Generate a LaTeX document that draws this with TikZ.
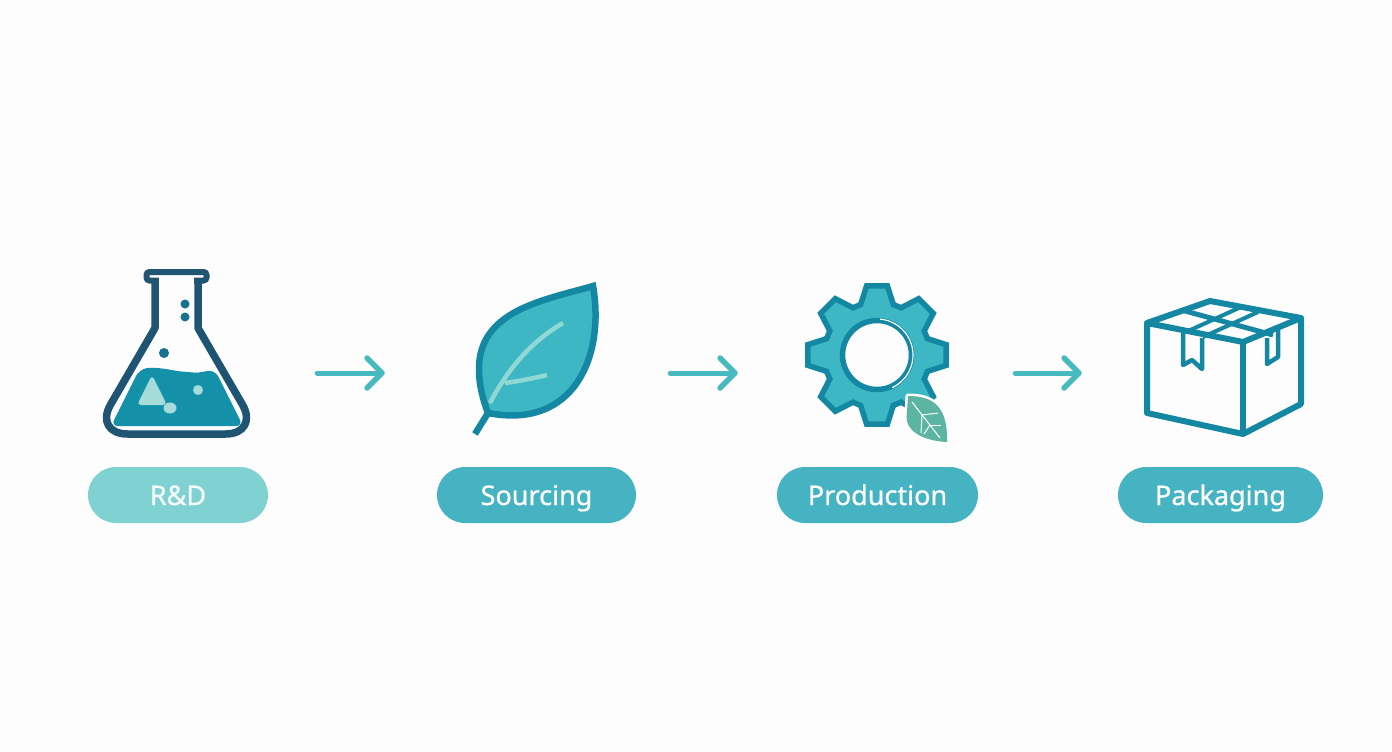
\documentclass[tikz,border=0pt]{standalone}
\usepackage{fontspec}
\setmainfont{Noto Sans}
\newfontfamily\pillfont[FakeBold=0.8]{Noto Sans}
\usetikzlibrary{arrows.meta}
\definecolor{pagebg}{HTML}{FDFDFD}
\definecolor{flaskdark}{HTML}{1F5573}
\definecolor{liquid}{HTML}{1491A9}
\definecolor{liquidlight}{HTML}{A5DBD9}
\definecolor{bubble}{HTML}{17708E}
\definecolor{tealdark}{HTML}{1487A2}
\definecolor{tealmid}{HTML}{3DB7C3}
\definecolor{veinlight}{HTML}{8FD8D6}
\definecolor{pillmain}{HTML}{45B3C2}
\definecolor{pillsoft}{HTML}{80D2D2}
\definecolor{arrowteal}{HTML}{47BABF}
\definecolor{smallleaf}{HTML}{5BB5A2}
\tikzset{
	pill/.style={rounded corners=28pt, minimum height=56pt, inner sep=0pt, text=white, text height=20pt, text depth=0pt, font=\pillfont\fontsize{27}{32}\selectfont},
	icon/.style={minimum width=#1, minimum height=170pt, inner sep=0pt},
	flowarrow/.style={line width=5pt, arrowteal, line cap=round, -{Straight Barb[length=15pt,width=30pt,line width=5.5pt,round]}},
	boxline/.style={tealdark, line width=6pt, line join=round}
}
\begin{document}
\begin{tikzpicture}[x=1pt,y=-1pt]
			\useasboundingbox (0,0) rectangle (1392,752);
			\fill[pagebg] (0,0) rectangle (1392,752);

			% Icon places
			\node[icon=150pt] (flask) at (178,373) {};
			\node[icon=126pt] (leaf) at (535,373) {};
			\node[icon=146pt] (gear) at (877,373) {};
			\node[icon=160pt] (box) at (1224,373) {};

			% Flask
			\fill[liquid, rounded corners=7pt] (139,370) .. controls (155,366) and (175,371) .. (188,372) .. controls (198,373) and (207,371) .. (215,370) -- (243,426) -- (111,426) -- cycle;
			\draw[flaskdark, line width=7.5pt, line join=round] (155,282) -- (155,328) [rounded corners=34pt] -- (93.5,434) -- (259.5,434) [sharp corners] -- (198,328) -- (198,282);
			\draw[flaskdark, line width=6pt, rounded corners=3pt, fill=pagebg] (146.5,272) rectangle (206.5,280.5);
			\fill[pagebg] (158.7,276) rectangle (194.3,290);
			\fill[liquidlight, rounded corners=4pt] (152,375) -- (167,405) -- (137,405) -- cycle;
			\fill[liquidlight] (198,390) circle (5pt);
			\fill[liquidlight] (170,408) ellipse (6.5pt and 5.5pt);
			\fill[bubble] (185,304) circle (4.5pt);
			\fill[bubble] (185,317) circle (4.5pt);
			\fill[bubble] (164,353) circle (5pt);

			% Leaf
			\draw[tealdark, line width=6.5pt, fill=tealmid, line join=miter] (593,286) .. controls (545,300) and (478,310) .. (479,370) .. controls (479,385) and (483,400) .. (488,413) .. controls (575,430) and (605,355) .. (593,286) -- cycle;
			\draw[tealdark, line width=6.5pt] (488,413) -- (475,434);
			\draw[veinlight, line width=4.5pt] (490,403) .. controls (503,378) and (525,345) .. (563,323);
			\draw[veinlight, line width=4.5pt] (505,383) .. controls (520,381) and (535,378) .. (547,375);

			% Gear
			\begin{scope}[shift={(877,355)}]
				\draw[tealdark, line width=5.5pt, fill=tealmid, line join=miter] (-18:53) \foreach \a in {0,45,...,315} { -- (\a-18:53) -- (\a-8.5:70) -- (\a+8.5:70) -- (\a+18:53) } -- cycle;
				\draw[tealdark, line width=5.5pt, fill=pagebg] (0,0) circle (34.5pt);
				\draw[white, line width=1.2pt] (-85:36) arc[start angle=-85, end angle=65, radius=36];
			\end{scope}
			\draw[white, line width=5pt, fill=smallleaf, line join=round] (908,396) .. controls (932,396) and (948,405) .. (947,442) .. controls (925,441) and (903,432) .. (907,412) -- cycle;
			\fill[smallleaf] (908,396) .. controls (932,396) and (948,405) .. (947,442) .. controls (925,441) and (903,432) .. (907,412) -- cycle;
			\draw[white, line width=1pt] (912,402) -- (940,438);
			\draw[white, line width=1pt] (922,415) -- (938,413);
			\draw[white, line width=1pt] (930,425) -- (941,425);
			\draw[white, line width=1pt] (922,415) -- (921,433);
			\draw[white, line width=1pt] (930,425) -- (924,434);

			% Box
			\draw[boxline] (1147,323) -- (1210,301) -- (1301,318) -- (1243,342) -- cycle;
			\draw[boxline] (1147,323) -- (1147,413) -- (1243,434) -- (1301,404) -- (1301,318);
			\draw[boxline] (1243,342) -- (1243,434);
			\draw[boxline, line width=5pt] (1185,311) -- (1273,335);
			\draw[boxline, line width=4pt] (1186,332) -- (1241,307);
			\draw[boxline, line width=4pt] (1203,337) -- (1258,312);
			\draw[boxline, line width=4.5pt] (1183,333) -- (1183,365) -- (1192,360) -- (1202,369) -- (1202,338);
			\draw[boxline, line width=4.5pt] (1267,338) -- (1267,364) -- (1278,357) -- (1278,330);

			% Labels
			\node[pill, fill=pillsoft, minimum width=180pt, text=white!92!pillsoft] (rdlabel) at (178,495) {R\&D};
			\node[pill, fill=pillmain, minimum width=199pt] (sourcinglabel) at (536.5,495) {Sourcing};
			\node[pill, fill=pillmain, minimum width=201pt] (productionlabel) at (877.5,495) {Production};
			\node[pill, fill=pillmain, minimum width=205pt] (packaginglabel) at (1220.5,495) {Packaging};

			% Arrows
			\draw[flowarrow, shorten <=64pt, shorten >=87pt] (flask.east) -- (leaf.west);
			\draw[flowarrow, shorten <=72pt, shorten >=66pt] (leaf.east) -- (gear.west);
			\draw[flowarrow, shorten <=65pt, shorten >=62pt] (gear.east) -- (box.west);
		\end{tikzpicture}
\end{document}
